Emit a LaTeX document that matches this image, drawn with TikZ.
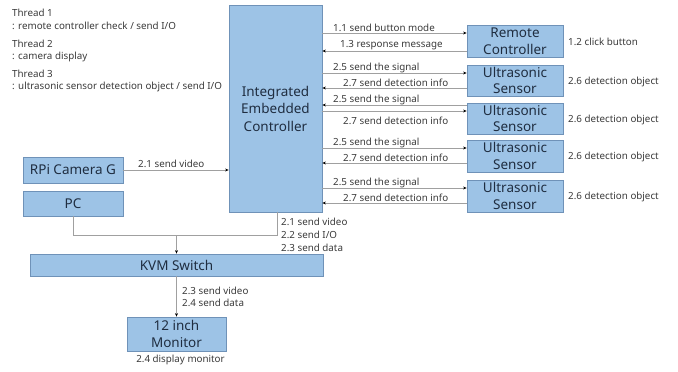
\documentclass[tikz,border=0pt]{standalone}
\usepackage{fontspec}
\setmainfont{Noto Sans}
\usetikzlibrary{arrows.meta,calc}
\definecolor{boxfill}{HTML}{9DC3E6}
\definecolor{boxline}{HTML}{6F92B8}
\definecolor{boxtext}{HTML}{1F2D40}
\definecolor{lbl}{HTML}{3A3A3A}
\definecolor{wire}{HTML}{A0A0A0}
\tikzset{
  blk/.style={draw=boxline, line width=0.8pt, fill=boxfill, text=boxtext, font=\fontsize{13.5}{17.5}\selectfont, align=center, inner sep=0pt},
  sm/.style={text=lbl, font=\fontsize{9.8}{12}\selectfont, inner sep=0pt},
  wr/.style={draw=wire, line width=0.7pt},
  arr/.style={wr, -{Stealth[length=3.5pt,width=3pt,color=black]}},
}
\begin{document}
\begin{tikzpicture}[x=1pt,y=-1pt]
\useasboundingbox (0,0) rectangle (678,372);
% thread texts
\node[sm,anchor=west] (t1) at (12,13) {Thread 1};
\node[sm,anchor=west] (t1b) at (12,26) {: remote controller check / send I/O};
\node[sm,anchor=west] (t2) at (12,44) {Thread 2};
\node[sm,anchor=west] (t2b) at (12,57) {: camera display};
\node[sm,anchor=west] (t3) at (12,74) {Thread 3};
\node[sm,anchor=west] (t3b) at (12,87) {: ultrasonic sensor detection object / send I/O};
% blocks
\node[blk, minimum width=93pt, minimum height=207pt] (iec) at (275.5,108.5) {Integrated\\Embedded\\Controller};
\node[blk, minimum width=96pt, minimum height=32pt, font=\fontsize{13.5}{16.5}\selectfont] (rc) at (515,41) {Remote\\Controller};
\node[blk, minimum width=96pt, minimum height=31pt, font=\fontsize{13.5}{16.5}\selectfont] (us1) at (515,80.5) {Ultrasonic\\Sensor};
\node[blk, minimum width=96pt, minimum height=31pt, font=\fontsize{13.5}{16.5}\selectfont] (us2) at (515,118.5) {Ultrasonic\\Sensor};
\node[blk, minimum width=96pt, minimum height=32pt, font=\fontsize{13.5}{16.5}\selectfont] (us3) at (515,156) {Ultrasonic\\Sensor};
\node[blk, minimum width=96pt, minimum height=32pt, font=\fontsize{13.5}{16.5}\selectfont] (us4) at (515,196) {Ultrasonic\\Sensor};
\node[blk, minimum width=100pt, minimum height=26pt] (cam) at (73,170) {RPi Camera G};
\node[blk, minimum width=100pt, minimum height=25pt] (pc) at (73,203.5) {PC};
\node[blk, minimum width=293pt, minimum height=22pt] (kvm) at (176.5,265) {KVM Switch};
\node[blk, minimum width=99pt, minimum height=34pt, font=\fontsize{13.5}{16.5}\selectfont] (mon) at (176.5,334) {12 inch\\Monitor};
% remote controller
\draw[arr] (iec.east |- 0,33) -- (rc.west |- 0,33);
\draw[arr] (rc.west |- 0,51) -- (iec.east |- 0,51);
\node[sm,anchor=west] (l11) at (333,28) {1.1 send button mode};
\node[sm,anchor=west] (l13) at (340,45) {1.3 response message};
\node[sm,anchor=west] (l12) at (568,42) {1.2 click button};
% sensor 1
\draw[arr] (iec.east |- 0,73) -- (us1.west |- 0,73);
\draw[arr] (us1.west |- 0,88) -- (iec.east |- 0,88);
\node[sm,anchor=west] (a1) at (333,68) {2.5 send the signal};
\node[sm,anchor=west] (b1) at (343,83) {2.7 send detection info};
\node[sm,anchor=west] (c1) at (568,82) {2.6 detection object};
% sensor 2
\draw[arr] (us2.west |- 0,105) -- (iec.east |- 0,105);
\draw[arr] (iec.east |- 0,111) -- (us2.west |- 0,111);
\node[sm,anchor=west] (a2) at (333,100) {2.5 send the signal};
\node[sm,anchor=west] (b2) at (343,121) {2.7 send detection info};
\node[sm,anchor=west] (c2) at (568,120) {2.6 detection object};
% sensor 3
\draw[arr] (iec.east |- 0,148) -- (us3.west |- 0,148);
\draw[arr] (us3.west |- 0,163) -- (iec.east |- 0,163);
\node[sm,anchor=west] (a3) at (333,143) {2.5 send the signal};
\node[sm,anchor=west] (b3) at (343,158) {2.7 send detection info};
\node[sm,anchor=west] (c3) at (568,157) {2.6 detection object};
% sensor 4
\draw[arr] (iec.east |- 0,188) -- (us4.west |- 0,188);
\draw[arr] (us4.west |- 0,203) -- (iec.east |- 0,203);
\node[sm,anchor=west] (a4) at (333,183) {2.5 send the signal};
\node[sm,anchor=west] (b4) at (343,198) {2.7 send detection info};
\node[sm,anchor=west] (c4) at (568,197) {2.6 detection object};
% camera
\draw[arr] (cam.east) -- (iec.west |- cam.east);
\node[sm,anchor=west] (lcam) at (138,164) {2.1 send video};
% to kvm
\coordinate (j) at (176.5,235);
\draw[wr] (pc.south) |- (j);
\draw[wr] ($(iec.south)+(1.5,0)$) |- (j);
\draw[arr] (j) -- (kvm.north);
\node[sm,anchor=west] (k1) at (281,222) {2.1 send video};
\node[sm,anchor=west] (k2) at (281,235) {2.2 send I/O};
\node[sm,anchor=west] (k3) at (281,248) {2.3 send data};
% to monitor
\draw[arr] (kvm.south) -- (mon.north);
\node[sm,anchor=west] (m1) at (182,291) {2.3 send video};
\node[sm,anchor=west] (m2) at (182,303) {2.4 send data};
\node[sm] (m3) at (180.5,360) {2.4 display monitor};
\end{tikzpicture}
\end{document}
